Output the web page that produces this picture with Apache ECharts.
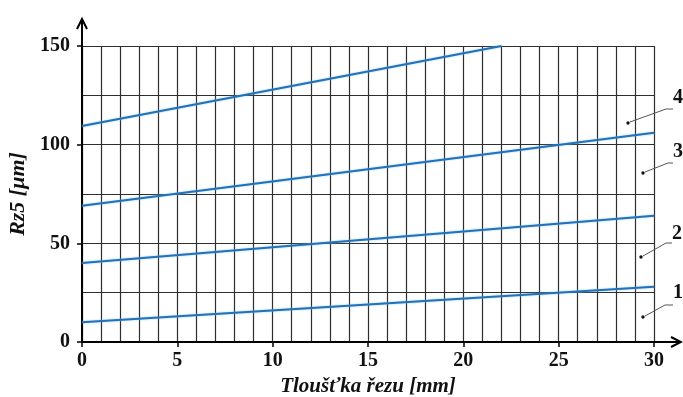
<!DOCTYPE html>
<html>
<head>
<meta charset="utf-8">
<script src="https://cdn.jsdelivr.net/npm/echarts@6/dist/echarts.min.js"></script>
<style>
html, body { margin: 0; padding: 0; background: #fff; }
#chart { width: 683px; height: 397px; }
</style>
</head>
<body>
<div id="chart"></div>
<script>
// values: [thickness mm, Rz5 um]
var line1 = [[0, 10], [30, 28]];
var line2 = [[0, 40], [30, 64]];
var line3 = [[0, 69], [30, 106]];
var line4 = [[0, 109.5], [22, 150]];
var lineNames = ['1', '2', '3', '4'];

var chart = echarts.init(document.getElementById('chart'));
var serif = '"Liberation Serif", "DejaVu Serif", serif';
var gridColor = '#2e2e2e';
var blue = '#2371b8';

function mkSeries(name, data) {
    return {
        name: name,
        type: 'line',
        data: data,
        symbol: 'none',
        silent: true,
        lineStyle: { color: blue, width: 2, shadowColor: 'rgba(120,190,240,0.8)', shadowBlur: 2 }
    };
}

var option = {
    animation: false,
    grid: { left: 82, right: 29, top: 46, bottom: 55, outerBoundsMode: 'none' },
    xAxis: {
        type: 'value',
        min: 0, max: 30, interval: 5,
        name: 'Tloušťka řezu [mm]',
        nameLocation: 'middle',
        nameGap: 31,
        nameTextStyle: { fontFamily: serif, fontSize: 21, fontWeight: 'bold', fontStyle: 'italic', color: '#111' },
        axisLine: { lineStyle: { color: '#000', width: 2 } },
        axisTick: { show: true, length: 5, inside: false, lineStyle: { color: '#000', width: 1.5 } },
        axisLabel: { fontFamily: serif, fontSize: 20, fontWeight: 'bold', color: '#111', margin: 9 },
        splitLine: { show: true, lineStyle: { color: gridColor, width: 1.2 } },
        minorTick: { show: false, splitNumber: 5 },
        minorSplitLine: { show: true, lineStyle: { color: gridColor, width: 1.2 } }
    },
    yAxis: {
        type: 'value',
        min: 0, max: 150, interval: 50,
        name: 'Rz5 [μm]',
        nameLocation: 'middle',
        nameGap: 48,
        nameTextStyle: { fontFamily: serif, fontSize: 22, fontWeight: 'bold', fontStyle: 'italic', color: '#111' },
        axisLine: { show: true, lineStyle: { color: '#000', width: 2 } },
        axisTick: { show: true, length: 5, lineStyle: { color: '#000', width: 1.5 } },
        axisLabel: { fontFamily: serif, fontSize: 20, fontWeight: 'bold', color: '#111', margin: 12 },
        splitLine: { show: true, lineStyle: { color: gridColor, width: 1.2 } },
        minorTick: { show: false, splitNumber: 2 },
        minorSplitLine: { show: true, lineStyle: { color: gridColor, width: 1.2 } }
    },
    series: [
        mkSeries(lineNames[0], line1),
        mkSeries(lineNames[1], line2),
        mkSeries(lineNames[2], line3),
        mkSeries(lineNames[3], line4)
    ]
};
chart.setOption(option);

// axis arrows and the numbered leaders on the right
var o = chart.convertToPixel({ gridIndex: 0 }, [0, 0]);
var tr = chart.convertToPixel({ gridIndex: 0 }, [30, 150]);
var g = [];
var arrowStyle = { stroke: '#000', lineWidth: 2, fill: null };
g.push({ type: 'polyline', shape: { points: [[o[0], tr[1]], [o[0], 19]] }, style: arrowStyle, z: 10 });
g.push({ type: 'polyline', shape: { points: [[o[0] - 5, 29], [o[0], 19], [o[0] + 5, 29]] }, style: arrowStyle, z: 10 });
g.push({ type: 'polyline', shape: { points: [[tr[0], o[1]], [681, o[1]]] }, style: arrowStyle, z: 10 });
g.push({ type: 'polyline', shape: { points: [[671, o[1] - 5], [681, o[1]], [671, o[1] + 5]] }, style: arrowStyle, z: 10 });

var labelPos = [
    { t: [673, 293], l: [[645, 316], [665, 305], [673, 305]], d: [643, 317] },
    { t: [672, 234], l: [[643, 256], [666, 243], [672, 243]], d: [641, 257] },
    { t: [673, 152], l: [[645, 172], [668, 163], [673, 163]], d: [643, 173] },
    { t: [673, 98],  l: [[630, 122], [666, 109], [673, 109]], d: [628, 123] }
];
labelPos.forEach(function (p, i) {
    g.push({ type: 'polyline', shape: { points: p.l }, style: { stroke: '#555', lineWidth: 1, fill: null }, z: 10 });
    g.push({ type: 'circle', shape: { cx: p.d[0], cy: p.d[1], r: 1.7 }, style: { fill: '#111' }, z: 10 });
    g.push({ type: 'text', x: p.t[0], y: p.t[1], style: {
        text: lineNames[i], font: 'bold 20px ' + serif, fill: '#111', align: 'left', verticalAlign: 'middle'
    }, z: 10 });
});
chart.setOption({ graphic: g });
</script>
</body>
</html>
